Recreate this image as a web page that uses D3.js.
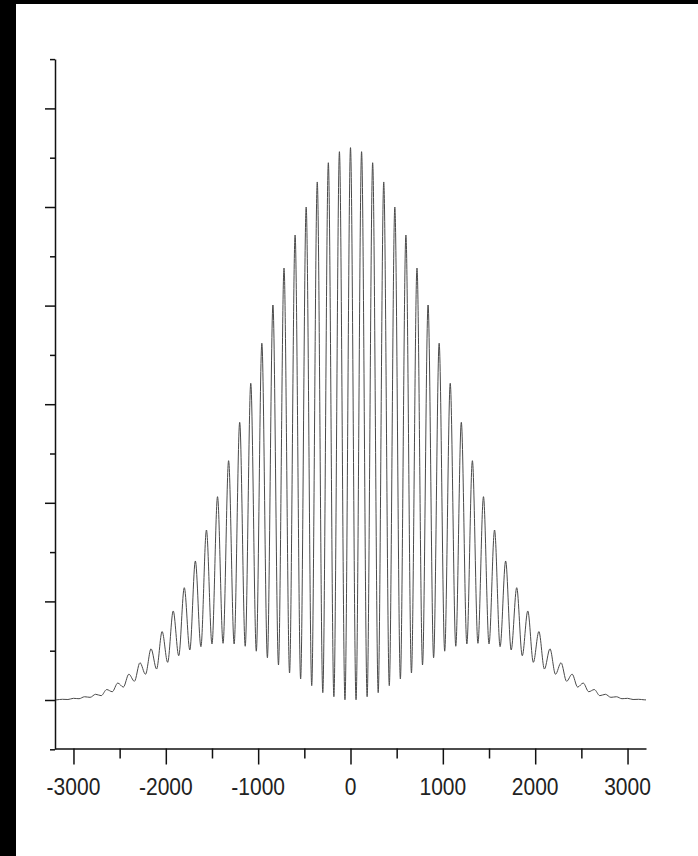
<!DOCTYPE html>
<html>
<head>
<meta charset="utf-8">
<script src="https://cdn.jsdelivr.net/npm/d3@7"></script>
<style>
  body { margin: 0; background: #fff; }
  svg { display: block; }
</style>
</head>
<body>
<div id="chart"></div>
<script>
// fringe maxima (x position, height)
const peakX = [-3120, -3000, -2880, -2760, -2640, -2520, -2400, -2280, -2160, -2040, -1920, -1800, -1680,
    -1560, -1440, -1320, -1200, -1080, -960, -840, -720, -600, -480, -360, -240, -120, 0,
    120, 240, 360, 480, 600, 720, 840, 960, 1080, 1200, 1320, 1440, 1560,
    1680, 1800, 1920, 2040, 2160, 2280, 2400, 2520, 2640, 2760, 2880, 3000, 3120];
const peakY = [0.007, 0.017, 0.033, 0.058, 0.106, 0.172, 0.262, 0.378, 0.519, 0.694, 0.903, 1.139, 1.410,
    1.724, 2.062, 2.427, 2.816, 3.212, 3.618, 4.006, 4.381, 4.716, 5.000, 5.254, 5.449, 5.561, 5.602,
    5.561, 5.449, 5.254, 5.000, 4.716, 4.381, 4.006, 3.618, 3.212, 2.816, 2.427, 2.062, 1.724,
    1.410, 1.139, 0.903, 0.694, 0.519, 0.378, 0.262, 0.172, 0.106, 0.058, 0.033, 0.017, 0.007];

// fringe minima
const troughX = [-3200, -3180, -3060, -2940, -2820, -2700, -2580, -2460, -2340, -2220, -2100, -1980, -1860, -1740,
    -1620, -1500, -1380, -1260, -1140, -1020, -900, -780, -660, -540, -420, -300, -180, -60,
    60, 180, 300, 420, 540, 660, 780, 900, 1020, 1140, 1260, 1380,
    1500, 1620, 1740, 1860, 1980, 2100, 2220, 2340, 2460, 2580, 2700, 2820, 2940, 3060, 3180, 3200];
const troughY = [0.001, 0.002, 0.005, 0.013, 0.027, 0.044, 0.084, 0.131, 0.190, 0.261, 0.314, 0.382, 0.449, 0.507,
    0.541, 0.568, 0.575, 0.568, 0.545, 0.495, 0.429, 0.355, 0.274, 0.213, 0.145, 0.074, 0.033, 0.002,
    0.002, 0.033, 0.074, 0.145, 0.213, 0.274, 0.355, 0.429, 0.495, 0.545, 0.568, 0.575,
    0.568, 0.541, 0.507, 0.449, 0.382, 0.314, 0.261, 0.190, 0.131, 0.084, 0.044, 0.027, 0.013, 0.005, 0.002, 0.001];

const xTicks = [-3000, -2500, -2000, -1500, -1000, -500, 0, 500, 1000, 1500, 2000, 2500, 3000];
const xLabels = [-3000, -2000, -1000, 0, 1000, 2000, 3000];
const yTicks = [-0.5, 0, 0.5, 1, 1.5, 2, 2.5, 3, 3.5, 4, 4.5, 5, 5.5, 6, 6.5];

const width = 698, height = 856;

const svg = d3.select("#chart").append("svg")
    .attr("width", width)
    .attr("height", height);

svg.append("rect").attr("x", 0).attr("y", 0).attr("width", width).attr("height", height).attr("fill", "#fff");
// dark frame strips at left and top
svg.append("rect").attr("x", 0).attr("y", 0).attr("width", 16).attr("height", height).attr("fill", "#000");
svg.append("rect").attr("x", 0).attr("y", 0).attr("width", width).attr("height", 4).attr("fill", "#000");

const x = d3.scaleLinear().domain([-3200, 3200]).range([55, 646]);
const y = d3.scaleLinear().domain([-0.5, 6.5]).range([749.3, 59.1]);

// merge maxima and minima into one curve
const pts = peakX.map((v, i) => ({ x: v, y: peakY[i] }))
    .concat(troughX.map((v, i) => ({ x: v, y: troughY[i] })))
    .sort((a, b) => a.x - b.x);

svg.append("path")
    .datum(pts)
    .attr("fill", "none")
    .attr("stroke", "#4a4a4a")
    .attr("stroke-width", 1)
    .attr("d", d3.line()
        .x(d => x(d.x))
        .y(d => y(d.y))
        .curve(d3.curveMonotoneX));

// Y axis, ticks only
const yAxis = svg.append("g")
    .attr("transform", "translate(55,0)")
    .call(d3.axisLeft(y).tickValues(yTicks).tickSize(10).tickSizeOuter(0).tickFormat(""));
yAxis.selectAll(".tick line")
    .attr("x2", d => Number.isInteger(d) ? -10 : -5);

// X axis
const xAxis = svg.append("g")
    .attr("transform", "translate(0,748.5)")
    .call(d3.axisBottom(x).tickValues(xTicks).tickSize(16).tickSizeOuter(0).tickFormat(""));
xAxis.selectAll(".tick line")
    .attr("y2", d => d % 1000 === 0 ? 16 : 10);

svg.selectAll(".domain, .tick line")
    .attr("stroke", "#111")
    .attr("stroke-width", 1.5);

svg.selectAll(".xlabel")
    .data(xLabels)
    .enter()
    .append("text")
    .attr("class", "xlabel")
    .attr("transform", d => "translate(" + x(d) + ",794.5) scale(1,1.17)")
    .attr("text-anchor", "middle")
    .attr("font-family", "Liberation Sans, Arial, sans-serif")
    .attr("font-size", 21)
    .attr("fill", "#222")
    .text(d => d);
</script>
</body>
</html>
